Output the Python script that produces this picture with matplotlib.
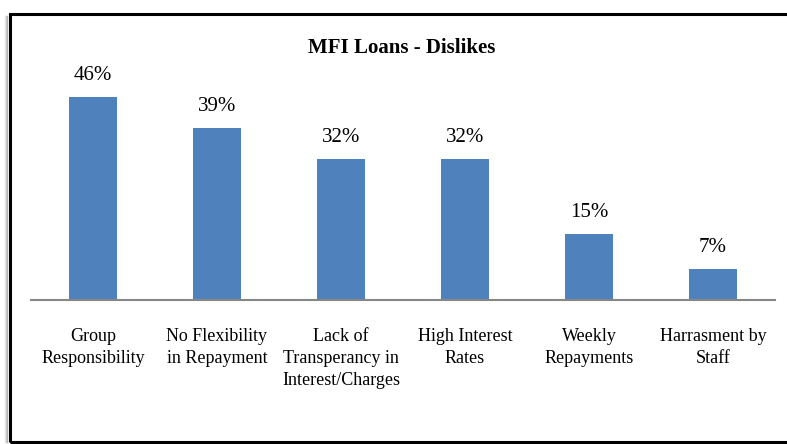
import matplotlib.pyplot as plt
from matplotlib.patches import Rectangle
from matplotlib.lines import Line2D

categories = ['Group\nResponsibility', 'No Flexibility\nin Repayment',
              'Lack of\nTransperancy in\nInterest/Charges', 'High Interest\nRates',
              'Weekly\nRepayments', 'Harrasment by\nStaff']
values = [46, 39, 32, 32, 15, 7]
value_labels = ['46%', '39%', '32%', '32%', '15%', '7%']
title = 'MFI Loans - Dislikes'

plt.rcParams['font.family'] = ['Liberation Serif', 'DejaVu Serif']

W, H = 787, 444
fig = plt.figure(figsize=(W / 100, H / 100), dpi=100)

# soft shadow left of the frame
for off, c in [(5, '#e6e6e6'), (6, '#cfcfcf'), (7, '#b5b5b5')]:
    fig.add_artist(Line2D([off / W, off / W], [2 / H, 1 - 16 / H],
                          transform=fig.transFigure, color=c, lw=1))

# chart frame (right edge runs off the picture)
fig.add_artist(Rectangle((9.5 / W, 2 / H), 1.05, (442 - 14.5) / H,
                         transform=fig.transFigure, fill=False,
                         edgecolor='black', lw=2.2, clip_on=False))

ax = fig.add_axes([31 / W, 144 / H, 744 / W, 220.5 / H])
x = range(len(values))
ax.bar(x, values, width=0.395, color='#4F81BD')
ax.set_xlim(-0.5, len(values) - 0.5)
ax.set_ylim(0, 50)

for i, (v, lbl) in enumerate(zip(values, value_labels)):
    ax.annotate(lbl, (i, v), xytext=(0, 12.3), textcoords='offset points',
                ha='center', va='baseline', fontsize=15)

ax.set_xticks(list(x), categories, fontsize=13, linespacing=1.4)
ax.tick_params(axis='x', length=0, pad=20)
ax.set_yticks([])
for s in ['left', 'right', 'top']:
    ax.spines[s].set_visible(False)
ax.spines['bottom'].set_color('#878787')
ax.spines['bottom'].set_linewidth(1.5)
ax.patch.set_alpha(0)

fig.text(402 / W, 1 - 53 / H, title, ha='center', va='baseline',
         fontsize=15, fontweight='bold')

fig.savefig('out.png', dpi=100)
